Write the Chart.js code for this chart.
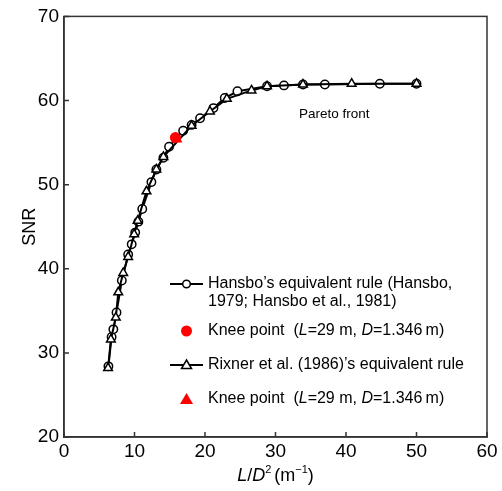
<!DOCTYPE html>
<html>
<head>
<meta charset="utf-8">
<script src="https://cdn.jsdelivr.net/npm/chart.js@4.4.1/dist/chart.umd.min.js"></script>
<style>
  html, body { margin: 0; padding: 0; background: #fff; }
  #wrap { width: 502px; height: 491px; }
</style>
</head>
<body>
<div id="wrap"><canvas id="chart"></canvas></div>
<script>
// L/D^2 vs SNR along the Pareto front
const hansboX = [6.3, 6.75, 7.0, 7.45, 8.2, 9.1, 9.6, 10.1, 10.55, 11.1, 12.4, 13.1, 14.1, 14.9, 16.9, 18.1, 19.3, 21.2, 22.8, 24.6, 28.8, 31.2, 33.9, 37.0, 44.8, 50.0];
const hansboY = [28.4, 31.9, 32.8, 34.8, 38.6, 41.7, 42.9, 44.3, 45.6, 47.1, 50.3, 51.8, 53.2, 54.5, 56.4, 57.1, 57.9, 59.1, 60.3, 61.1, 61.7, 61.8, 61.9, 61.9, 62.0, 62.0];

const rixnerX = [6.25, 6.65, 7.35, 7.7, 8.4, 9.1, 9.95, 10.45, 11.7, 13.1, 14.1, 18.1, 20.7, 23.1, 26.6, 28.8, 33.9, 40.8, 50.0];
const rixnerY = [28.2, 31.6, 34.2, 37.2, 39.5, 41.4, 44.1, 45.7, 49.2, 51.8, 53.3, 57.0, 58.7, 60.2, 61.2, 61.7, 61.9, 62.0, 62.0];

const kneeHansbo = [15.8, 55.6];
const kneeRixner = [16.0, 55.4];

const xTicks = [0, 10, 20, 30, 40, 50, 60];
const yTicks = [20, 30, 40, 50, 60, 70];

const FONT = 'Arial, "Liberation Sans", sans-serif';

function pts(xs, ys) {
    return xs.map((x, i) => ({ x: x, y: ys[i] }));
}

// italic-aware text run
function drawRuns(ctx, runs, x, y, size) {
    let cx = x;
    runs.forEach(r => {
        ctx.font = (r.italic ? 'italic ' : '') + (r.size || size) + 'px ' + FONT;
        ctx.fillText(r.t, cx, y + (r.dy || 0));
        cx += ctx.measureText(r.t).width + (r.gap || 0);
    });
    return cx - x;
}

function measureRuns(ctx, runs, size) {
    let w = 0;
    runs.forEach(r => {
        ctx.font = (r.italic ? 'italic ' : '') + (r.size || size) + 'px ' + FONT;
        w += ctx.measureText(r.t).width + (r.gap || 0);
    });
    return w;
}

const extras = {
    id: 'extras',
    afterDraw(chart) {
        const ctx = chart.ctx;
        const a = chart.chartArea;
        const xs = chart.scales.x, ys = chart.scales.y;
        ctx.save();

        // frame
        ctx.strokeStyle = '#333';
        ctx.lineWidth = 1.5;
        ctx.strokeRect(a.left, a.top, a.right - a.left, a.bottom - a.top);

        // inward ticks
        ctx.beginPath();
        xTicks.forEach(v => {
            const px = xs.getPixelForValue(v);
            ctx.moveTo(px, a.bottom);
            ctx.lineTo(px, a.bottom - 5);
        });
        yTicks.forEach(v => {
            const py = ys.getPixelForValue(v);
            ctx.moveTo(a.left, py);
            ctx.lineTo(a.left + 5, py);
        });
        ctx.stroke();

        ctx.fillStyle = '#000';
        ctx.textBaseline = 'alphabetic';

        // x title
        const xt = [
            { t: 'L', italic: true }, { t: '/' }, { t: 'D', italic: true },
            { t: '2', size: 11, dy: -8, gap: 3 }, { t: '(m' },
            { t: '\u22121', size: 11, dy: -8 }, { t: ')' }
        ];
        const xw = measureRuns(ctx, xt, 18);
        drawRuns(ctx, xt, (a.left + a.right) / 2 - xw / 2, 481, 18);

        // y title
        ctx.save();
        ctx.translate(35, (a.top + a.bottom) / 2);
        ctx.rotate(-Math.PI / 2);
        ctx.font = '18px ' + FONT;
        ctx.textAlign = 'center';
        ctx.fillText('SNR', 0, 0);
        ctx.restore();

        // annotation
        ctx.font = '13.5px ' + FONT;
        ctx.textAlign = 'left';
        ctx.fillText('Pareto front', 299, 118);

        // legend
        const lx = 208, sx0 = 170, sx1 = 203, mx = 186.5;
        ctx.textBaseline = 'middle';
        ctx.lineWidth = 2;
        ctx.strokeStyle = '#000';

        // entry 1
        ctx.beginPath(); ctx.moveTo(sx0, 284); ctx.lineTo(sx1, 284); ctx.stroke();
        ctx.beginPath(); ctx.arc(mx, 284, 3.8, 0, Math.PI * 2);
        ctx.fillStyle = '#fff'; ctx.fill(); ctx.lineWidth = 1.5; ctx.stroke();
        ctx.fillStyle = '#000';
        ctx.font = '16px ' + FONT;
        ctx.fillText('Hansbo\u2019s equivalent rule (Hansbo,', lx, 284);
        ctx.fillText('1979; Hansbo et al., 1981)', lx, 302);

        const knee = [
            { t: 'Knee point  (' }, { t: 'L', italic: true }, { t: '=29 m, ' },
            { t: 'D', italic: true }, { t: '=1.346\u2009m)' }
        ];

        // entry 2
        ctx.beginPath(); ctx.arc(mx, 331, 5.5, 0, Math.PI * 2);
        ctx.fillStyle = '#f00'; ctx.fill();
        ctx.fillStyle = '#000';
        drawRuns(ctx, knee, lx, 331, 16);

        // entry 3
        ctx.lineWidth = 2;
        ctx.beginPath(); ctx.moveTo(sx0, 365); ctx.lineTo(sx1, 365); ctx.stroke();
        ctx.beginPath();
        ctx.moveTo(mx, 360); ctx.lineTo(mx + 5, 368.5); ctx.lineTo(mx - 5, 368.5); ctx.closePath();
        ctx.fillStyle = '#fff'; ctx.fill(); ctx.lineWidth = 1.5; ctx.stroke();
        ctx.fillStyle = '#000';
        ctx.font = '16px ' + FONT;
        ctx.fillText('Rixner et al. (1986)\u2019s equivalent rule', lx, 365);

        // entry 4
        ctx.beginPath();
        ctx.moveTo(mx, 393); ctx.lineTo(mx + 6.5, 404); ctx.lineTo(mx - 6.5, 404); ctx.closePath();
        ctx.fillStyle = '#f00'; ctx.fill();
        ctx.fillStyle = '#000';
        drawRuns(ctx, knee, lx, 399, 16);

        ctx.restore();
    }
};

new Chart(document.getElementById('chart'), {
    type: 'line',
    data: {
        datasets: [
            {
                label: 'Knee point (Hansbo)',
                data: [{ x: kneeHansbo[0], y: kneeHansbo[1] }],
                showLine: false,
                pointStyle: 'circle',
                pointRadius: 5.5,
                pointBackgroundColor: '#f00',
                pointBorderColor: '#f00',
                pointBorderWidth: 0,
                order: 0
            },
            {
                label: 'Knee point (Rixner)',
                data: [{ x: kneeRixner[0], y: kneeRixner[1] }],
                showLine: false,
                pointStyle: 'triangle',
                pointRadius: 6.5,
                pointBackgroundColor: '#f00',
                pointBorderColor: '#f00',
                pointBorderWidth: 0,
                order: 0
            },
            {
                label: 'Hansbo\u2019s equivalent rule',
                data: pts(hansboX, hansboY),
                borderColor: '#000',
                borderWidth: 2,
                pointStyle: 'circle',
                pointRadius: 4.2,
                pointBackgroundColor: '#fff',
                pointBorderColor: '#000',
                pointBorderWidth: 1.5,
                tension: 0,
                order: 2
            },
            {
                label: 'Rixner et al. (1986)\u2019s equivalent rule',
                data: pts(rixnerX, rixnerY),
                borderColor: '#000',
                borderWidth: 2,
                pointStyle: 'triangle',
                pointRadius: 5,
                pointBackgroundColor: '#fff',
                pointBorderColor: '#000',
                pointBorderWidth: 1.5,
                tension: 0,
                order: 1
            }
        ]
    },
    options: {
        responsive: true,
        maintainAspectRatio: false,
        animation: false,
        layout: { padding: { left: 0, right: 15, top: 14, bottom: 0 } },
        plugins: {
            legend: { display: false },
            tooltip: { enabled: false }
        },
        scales: {
            x: {
                type: 'linear',
                min: 0,
                max: 60,
                afterFit: s => { s.height = 54; },
                afterBuildTicks: s => { s.ticks = xTicks.map(v => ({ value: v })); },
                ticks: { color: '#000', padding: 3, font: { size: 19, family: FONT } },
                grid: { display: false, drawTicks: false },
                border: { display: true, color: '#333', width: 1.5 }
            },
            y: {
                type: 'linear',
                min: 20,
                max: 70,
                afterFit: s => { s.width = 64; },
                afterBuildTicks: s => { s.ticks = yTicks.map(v => ({ value: v })); },
                ticks: { color: '#000', padding: 5, font: { size: 19, family: FONT } },
                grid: { display: false, drawTicks: false },
                border: { display: true, color: '#333', width: 1.5 }
            }
        }
    },
    plugins: [extras]
});
</script>
</body>
</html>
